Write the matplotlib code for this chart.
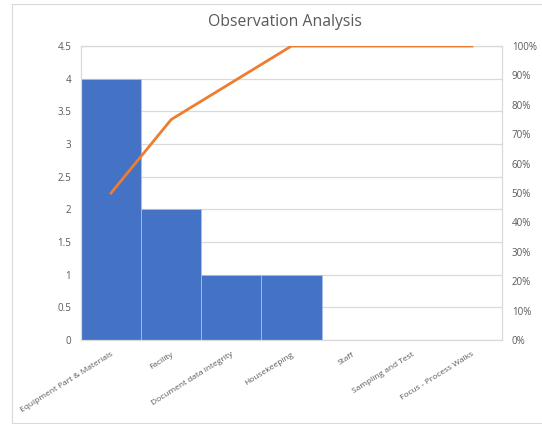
import matplotlib
matplotlib.use("Agg")
import matplotlib.pyplot as plt
from matplotlib.patches import Rectangle
import numpy as np

categories = ["Equipment Part & Materials", "Facility", "Document data integrity",
              "Housekeeping", "Staff", "Sampling and Test", "Focus - Process Walks"]
counts = [4, 2, 1, 1, 0, 0, 0]
cumulative_pct = [50, 75, 87.5, 100, 100, 100, 100]
left_ticks = [0, 0.5, 1, 1.5, 2, 2.5, 3, 3.5, 4, 4.5]
left_tick_labels = ["0", "0.5", "1", "1.5", "2", "2.5", "3", "3.5", "4", "4.5"]
right_ticks = [0, 10, 20, 30, 40, 50, 60, 70, 80, 90, 100]
right_tick_labels = [f"{t}%" for t in right_ticks]

plt.rcParams["font.family"] = ["Open Sans", "DejaVu Sans"]
TXT = "#595959"
GRID = "#D9D9D9"

fig = plt.figure(figsize=(5.42, 4.24), dpi=100)
fig.patches.append(Rectangle((12 / 542, 1 - 423 / 424), 540 / 542, 419 / 424,
                             transform=fig.transFigure, fill=False,
                             edgecolor=GRID, linewidth=0.8))

ax = fig.add_axes([81 / 542, 1 - 340 / 424, 421 / 542, 294 / 424])
x = np.arange(len(categories))
ax.bar(x, counts, width=1.0, color="#4472C4", edgecolor="#A9BDE3", linewidth=0.6, zorder=2)
ax.set_xlim(-0.5, len(categories) - 0.5)
ax.set_ylim(0, 4.5)
ax.set_yticks(left_ticks)
ax.set_yticklabels(left_tick_labels, color=TXT, fontsize=7)
ax.yaxis.grid(True, color=GRID, linewidth=0.9, zorder=0)
ax.set_axisbelow(True)
ax.tick_params(axis="both", length=0, pad=7)
ax.set_xticks(x)
ax.set_xticklabels(categories, rotation=32, ha="right", rotation_mode="anchor",
                   color=TXT, fontsize=6)
ax.tick_params(axis="x", pad=8)
for s in ax.spines.values():
    s.set_color(GRID)
    s.set_linewidth(0.9)

ax2 = ax.twinx()
ax2.plot(x, cumulative_pct, color="#ED7D31", linewidth=2.0, zorder=3)
ax2.set_ylim(0, 100)
ax2.set_yticks(right_ticks)
ax2.set_yticklabels(right_tick_labels, color=TXT, fontsize=7)
ax2.tick_params(axis="y", length=0, pad=7)
for s in ax2.spines.values():
    s.set_visible(False)

fig.text(285 / 542, 1 - 22 / 424, "Observation Analysis", ha="center", va="center",
         fontsize=11.3, color=TXT)

fig.savefig("out.png", dpi=100)
